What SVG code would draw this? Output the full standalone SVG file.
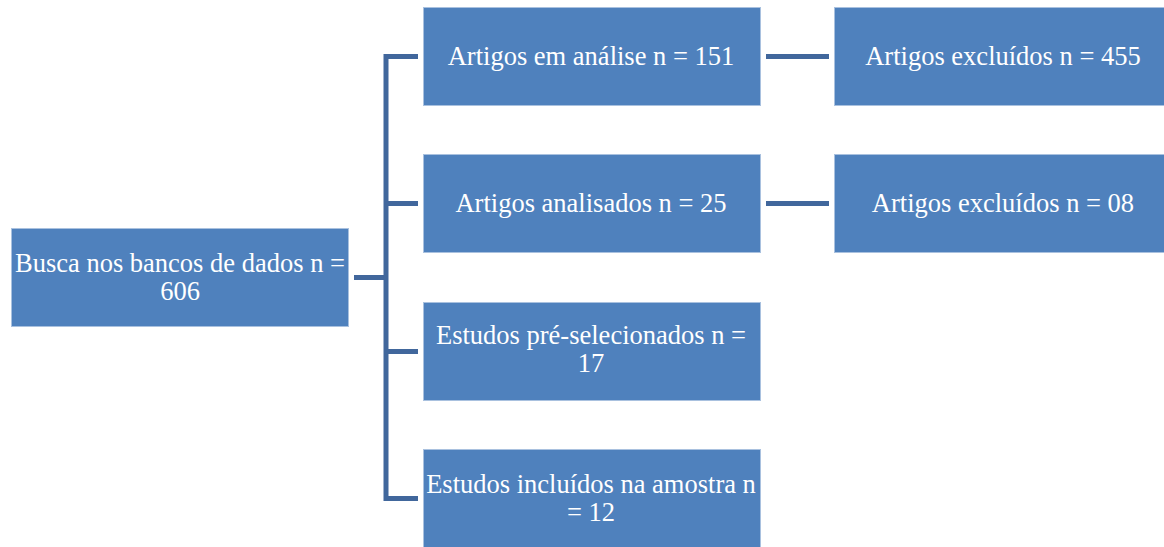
<svg xmlns="http://www.w3.org/2000/svg" width="1164" height="547" viewBox="0 0 1164 547">
<style>
.box{fill:#4F81BD;stroke:#A9C1DF;stroke-width:1}
.c{fill:none;stroke:#41679C;stroke-width:5;stroke-linejoin:miter;stroke-linecap:butt}
text{font-family:'Liberation Serif','Times New Roman',serif;font-size:26.5px;fill:#FFFFFF;text-anchor:middle}
</style>
<rect width="1164" height="547" fill="#FFFFFF"/>
<g id="connectors">
<path class="c" d="M354 277.5H386"/>
<path class="c" d="M418 56.5H386V498.5H418"/>
<path class="c" d="M386 203.5H418"/>
<path class="c" d="M386 351.5H418"/>
<path class="c" d="M766 56.5H829"/>
<path class="c" d="M766 203.5H829"/>
</g>
<g id="busca">
<rect class="box" x="11.5" y="228.5" width="337" height="98"/>
<text x="180" y="272">Busca nos bancos de dados n =</text>
<text x="180" y="300">606</text>
</g>
<g id="analise">
<rect class="box" x="423.5" y="7.5" width="337" height="98"/>
<text x="591" y="65">Artigos em análise n = 151</text>
</g>
<g id="analisados">
<rect class="box" x="423.5" y="154.5" width="337" height="98"/>
<text x="591" y="212">Artigos analisados n = 25</text>
</g>
<g id="preselecionados">
<rect class="box" x="423.5" y="302.5" width="337" height="98"/>
<text x="591" y="344">Estudos pré-selecionados n =</text>
<text x="591" y="372">17</text>
</g>
<g id="incluidos">
<rect class="box" x="423.5" y="449.5" width="337" height="98"/>
<text x="591" y="493">Estudos incluídos na amostra n</text>
<text x="591" y="521">= 12</text>
</g>
<g id="excluidos455">
<rect class="box" x="834.5" y="7.5" width="337" height="98"/>
<text x="1003" y="65">Artigos excluídos n = 455</text>
</g>
<g id="excluidos08">
<rect class="box" x="834.5" y="154.5" width="337" height="98"/>
<text x="1003" y="212">Artigos excluídos n = 08</text>
</g>
</svg>
